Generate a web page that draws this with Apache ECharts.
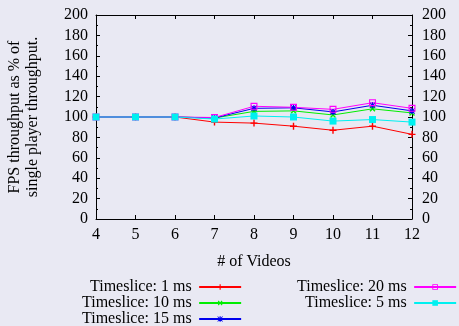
<!DOCTYPE html>
<html>
<head>
<meta charset="utf-8">
<script src="https://cdn.jsdelivr.net/npm/echarts@6/dist/echarts.min.js"></script>
<style>
  html, body { margin: 0; padding: 0; background: #e9e9f3; }
  #chart { width: 459px; height: 326px; }
</style>
</head>
<body>
<div id="chart"></div>
<script>
// Number of videos played concurrently
const videos = [4, 5, 6, 7, 8, 9, 10, 11, 12];

// FPS throughput as % of single player throughput, per timeslice
const ts1ms  = [100, 100, 100, 95, 94, 91, 87, 91, 83];
const ts10ms = [100, 100, 100, 99, 105.5, 106, 102, 108, 104];
const ts15ms = [100, 100, 100, 99, 108.5, 109, 105, 111.5, 106];
const ts20ms = [100, 100, 100, 99.5, 110.5, 109.5, 107.5, 114, 108.5];
const ts5ms  = [100, 100, 100, 98, 101, 100, 96, 97.5, 95];

const yTicks = { min: 0, max: 200, step: 20 };
const xTicks = { min: 4, max: 12, step: 1 };

const FONT = '"Liberation Serif", "DejaVu Serif", serif';

const SYM_PLUS = 'path://M4,0H6V4H10V6H6V10H4V6H0V4H4Z';
const SYM_STAR = 'path://M4,0H6V4H10V6H6V10H4V6H0V4H4ZM0,1L1,0L10,9L9,10ZM9,0L10,1L1,10L0,9Z';
const SYM_BOX  = 'path://M0,0H10V10H0ZM1.6,1.6V8.4H8.4V1.6Z';

function pairs(vals) { return videos.map((v, i) => [v, vals[i]]); }

function line(name, vals, color, symbol, size, rotate) {
  return {
    name: name,
    type: 'line',
    data: pairs(vals),
    symbol: symbol,
    symbolSize: size,
    symbolRotate: rotate || 0,
    showAllSymbol: true,
    color: color,
    lineStyle: { color: color, width: 1 },
    itemStyle: { color: color },
    emphasis: { disabled: true },
    animation: false
  };
}

const chart = echarts.init(document.getElementById('chart'), null, { renderer: 'canvas' });

const axisText = { color: '#000', fontFamily: FONT, fontSize: 16 };

function legendBlock(names, left) {
  return {
    data: names,
    orient: 'vertical', align: 'right',
    left: left, top: 279, height: 80, padding: 0, itemGap: 0,
    itemWidth: 42, itemHeight: 7,
    selectedMode: false,
    textStyle: Object.assign({ lineHeight: 16, padding: [0, 2.5, 0, 0] }, axisText)
  };
}

chart.setOption({
  backgroundColor: '#e9e9f3',
  textStyle: { fontFamily: FONT },
  grid: { left: 96, right: 47, top: 15, bottom: 107, containLabel: false, outerBoundsMode: 'none' },
  xAxis: [{
    type: 'value', min: xTicks.min, max: xTicks.max, interval: xTicks.step,
    position: 'bottom',
    name: '# of Videos', nameLocation: 'middle', nameGap: 35,
    nameTextStyle: axisText,
    axisLine: { onZero: false, lineStyle: { color: '#000', width: 1 } },
    axisTick: { inside: true, length: 4, lineStyle: { color: '#000' } },
    axisLabel: Object.assign({ margin: 8 }, axisText),
    splitLine: { show: false }
  }, {
    type: 'value', min: xTicks.min, max: xTicks.max, interval: xTicks.step,
    position: 'top',
    axisLine: { onZero: false, lineStyle: { color: '#000', width: 1 } },
    axisTick: { inside: true, length: 4, lineStyle: { color: '#000' } },
    axisLabel: { show: false },
    splitLine: { show: false }
  }],
  yAxis: [{
    type: 'value', min: yTicks.min, max: yTicks.max, interval: yTicks.step,
    position: 'left',
    name: 'FPS throughput as % of\nsingle player throughput.',
    nameLocation: 'middle', nameGap: 54, nameRotate: 90,
    nameTextStyle: Object.assign({ lineHeight: 18 }, axisText),
    axisLine: { onZero: false, lineStyle: { color: '#000', width: 1 } },
    axisTick: { inside: true, length: 4, lineStyle: { color: '#000' } },
    minorTick: { show: true, splitNumber: 2, length: 2, lineStyle: { color: '#000' } },
    axisLabel: Object.assign({ margin: 8 }, axisText),
    splitLine: { show: false }
  }, {
    type: 'value', min: yTicks.min, max: yTicks.max, interval: yTicks.step,
    position: 'right',
    axisLine: { onZero: false, lineStyle: { color: '#000', width: 1 } },
    axisTick: { inside: true, length: 4, lineStyle: { color: '#000' } },
    minorTick: { show: true, splitNumber: 2, length: 2, lineStyle: { color: '#000' } },
    axisLabel: Object.assign({ margin: 10 }, axisText),
    splitLine: { show: false }
  }],
  legend: [
    legendBlock(['Timeslice: 1 ms', 'Timeslice: 10 ms', 'Timeslice: 15 ms'], 82),
    legendBlock(['Timeslice: 20 ms', 'Timeslice: 5 ms'], 297)
  ],
  series: [
    line('Timeslice: 1 ms', ts1ms, '#ff0000', SYM_PLUS, 7),
    line('Timeslice: 10 ms', ts10ms, '#00ee00', SYM_PLUS, 7, 45),
    line('Timeslice: 15 ms', ts15ms, '#0000ee', SYM_STAR, 6),
    line('Timeslice: 20 ms', ts20ms, '#ff00ff', SYM_BOX, 7),
    line('Timeslice: 5 ms', ts5ms, '#00f0f0', 'rect', 7)
  ]
});
</script>
</body>
</html>
